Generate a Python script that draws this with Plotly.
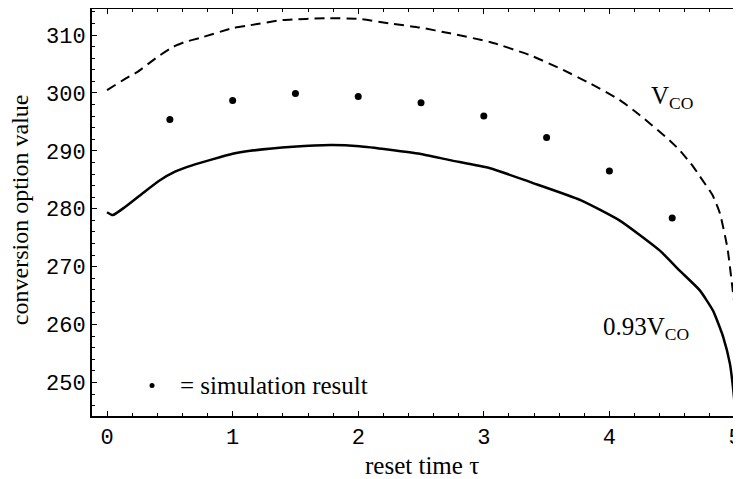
import plotly.graph_objects as go

# V_CO (dashed)
vco_x = [0.0, 0.18, 0.24, 0.40, 0.53, 0.62, 0.74, 1.00, 1.14, 1.40, 1.77, 2.01, 2.25, 2.49, 2.73,
         3.05, 3.37, 3.61, 3.85, 4.08, 4.24, 4.48, 4.56, 4.67, 4.72, 4.82, 4.88, 4.94, 4.99]
vco_y = [300.5, 302.9, 303.6, 306.2, 308.0, 308.8, 309.5, 311.2, 311.7, 312.6, 312.9, 312.8, 312.0, 311.3, 310.3,
         308.8, 306.5, 304.2, 301.6, 298.8, 296.2, 291.8, 290.1, 287.2, 285.6, 282.4, 279.2, 273.2, 264.4]

# 0.93 V_CO (solid)
low_x = [0.0, 0.045, 0.143, 0.279, 0.412, 0.541, 0.677, 1.00, 1.14, 1.48, 1.78, 2.01, 2.25, 2.49, 2.73,
         3.05, 3.37, 3.77, 4.08, 4.40, 4.56, 4.72, 4.825, 4.907, 4.96, 4.987, 5.0]
low_y = [279.4, 278.9, 280.3, 282.6, 284.8, 286.4, 287.5, 289.5, 290.0, 290.7, 291.0, 290.8, 290.2, 289.5, 288.4,
         287.0, 284.6, 281.5, 278.0, 272.8, 269.3, 265.9, 262.4, 257.8, 253.2, 248.6, 245.6]

# simulation results
sim_x = [0.5, 1.0, 1.5, 2.0, 2.5, 3.0, 3.5, 4.0, 4.5]
sim_y = [295.4, 298.7, 299.9, 299.4, 298.3, 296.0, 292.3, 286.5, 278.4]

x_ticks = [0, 1, 2, 3, 4, 5]
y_ticks = [250, 260, 270, 280, 290, 300, 310]

fig = go.Figure()
fig.add_trace(go.Scatter(x=vco_x, y=vco_y, mode="lines",
                         line=dict(color="black", width=2, dash="10px,6px", shape="spline", smoothing=0.5)))
fig.add_trace(go.Scatter(x=low_x, y=low_y, mode="lines",
                         line=dict(color="black", width=2.5, shape="spline", smoothing=0.5)))
fig.add_trace(go.Scatter(x=sim_x, y=sim_y, mode="markers", marker=dict(color="black", size=7)))
fig.add_trace(go.Scatter(x=[0.358], y=[249.45], mode="markers", marker=dict(color="black", size=5)))

serif = "Liberation Serif, Times New Roman, serif"
mono = "Liberation Mono, Courier New, monospace"

fig.add_annotation(x=4.50, y=299.3, text="V<sub>CO</sub>", showarrow=False, xanchor="center", yanchor="middle",
                   font=dict(family=serif, size=25, color="black"))
fig.add_annotation(x=4.29, y=259.3, text="0.93V<sub>CO</sub>", showarrow=False, xanchor="center", yanchor="middle",
                   font=dict(family=serif, size=25, color="black"))
fig.add_annotation(x=0.565, y=249.45, text="= simulation result", showarrow=False, xanchor="left", yanchor="middle",
                   font=dict(family=serif, size=25, color="black"))
# axis titles
fig.add_annotation(xref="paper", yref="paper", x=0.509, y=-0.121, text="reset time τ", showarrow=False,
                   xanchor="center", yanchor="middle", font=dict(family=serif, size=25, color="black"))
fig.add_annotation(xref="paper", yref="paper", x=-0.111, y=0.506, text="conversion option value", showarrow=False,
                   textangle=-90, xanchor="center", yanchor="middle", font=dict(family=serif, size=24, color="black"))

# page body has an 8px margin, so the figure is sized to end at the window edge
fig.update_layout(
    width=733, height=471,
    margin=dict(l=84, r=1, t=1, b=63, autoexpand=False),
    paper_bgcolor="white", plot_bgcolor="white",
    showlegend=False,
)
fig.update_xaxes(
    range=[-0.12, 5.04], tickvals=x_ticks, ticktext=[str(v) for v in x_ticks], automargin=False,
    ticklabeloverflow="allow",
    showgrid=False, zeroline=False, showline=True, linecolor="black", linewidth=2,
    mirror="allticks", ticks="inside", ticklen=5, tickwidth=1, tickcolor="black",
    minor=dict(ticks="inside", dtick=0.2, tick0=0, ticklen=3, tickcolor="black", showgrid=False),
    tickfont=dict(family=mono, size=22, color="black"),
)
fig.update_yaxes(
    range=[244.2, 314.5], tickvals=y_ticks, ticktext=[str(v) for v in y_ticks], automargin=False,
    ticklabeloverflow="allow",
    showgrid=False, zeroline=False, showline=True, linecolor="black", linewidth=2,
    ticks="inside", ticklen=5, tickwidth=1, tickcolor="black",
    minor=dict(ticks="inside", dtick=2, tick0=250, ticklen=3, tickcolor="black", showgrid=False),
    tickfont=dict(family=mono, size=22, color="black"),
)

fig.write_html("out.html")
